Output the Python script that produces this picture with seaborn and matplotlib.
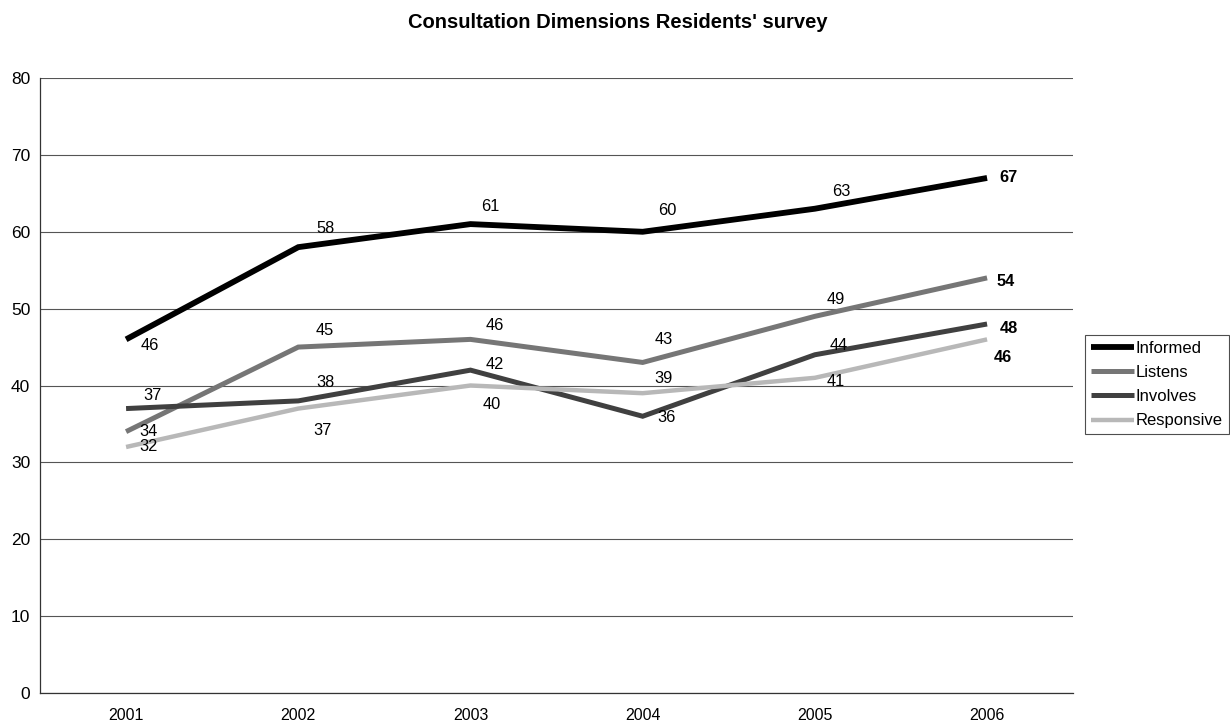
import matplotlib

matplotlib.use("Agg")
import matplotlib.pyplot as plt
import seaborn as sns

years = ["2001", "2002", "2003", "2004", "2005", "2006"]
informed = [46, 58, 61, 60, 63, 67]
listens = [34, 45, 46, 43, 49, 54]
involves = [37, 38, 42, 36, 44, 48]
responsive = [32, 37, 40, 39, 41, 46]

series = {
    "Informed": informed,
    "Listens": listens,
    "Involves": involves,
    "Responsive": responsive,
}

# styling per series
colors = {"Informed": "#000000", "Listens": "#767676", "Involves": "#404040", "Responsive": "#b8b8b8"}
widths = {"Informed": 4.2, "Listens": 3.6, "Involves": 3.6, "Responsive": 3.2}

# label offsets in pixels (dx right, dy down), hand placed like the Excel original
label_offsets = {
    "Informed": [(24, 6), (27, -19), (20, -18), (25, -21), (26, -17), (21, 0)],
    "Listens": [(22, 0), (26, -17), (24, -14), (21, -23), (21, -17), (19, 4)],
    "Involves": [(26, -13), (27, -18), (24, -6), (24, 1), (24, -9), (22, 4)],
    "Responsive": [(22, 0), (24, 22), (21, 19), (21, -15), (21, 4), (16, 18)],
}

sns.set_style("white")
plt.rcParams["font.family"] = ["Liberation Sans", "DejaVu Sans"]
plt.rcParams["text.color"] = "black"
plt.rcParams["xtick.color"] = "black"
plt.rcParams["ytick.color"] = "black"
fs = 11.8

fig = plt.figure(figsize=(12.3, 7.26), dpi=100)
ax = fig.add_axes([0.0325, 0.0455, 0.84, 0.847])

x = list(range(len(years)))
for name, vals in series.items():
    sns.lineplot(x=x, y=vals, ax=ax, color=colors[name], linewidth=widths[name],
                 label=name, solid_capstyle="butt", solid_joinstyle="miter")
    for i, v in enumerate(vals):
        dx, dy = label_offsets[name][i]
        ax.annotate(str(v), (i, v), xytext=(dx, -dy), textcoords="offset pixels",
                    ha="center", va="center", fontsize=fs, color="black",
                    fontweight="bold" if i == len(vals) - 1 else "normal")

ax.set_xlim(-0.5, len(years) - 0.5)
ax.set_ylim(0, 80)
ax.set_yticks(range(0, 81, 10))
ax.set_xticks(x)
ax.set_xticklabels(years)
ax.set_xticks([i + 0.5 for i in range(-1, len(years))], minor=True)
ax.tick_params(axis="x", which="major", length=0, pad=11, labelsize=11.5)
ax.tick_params(axis="x", which="minor", length=5, width=0.8, direction="out", color="#333333")
ax.tick_params(axis="y", length=4, width=0.8, direction="out", pad=3, labelsize=12.5, color="#333333")
ax.yaxis.grid(True, color="#555555", linewidth=0.8)
ax.set_axisbelow(True)
for side in ["top", "right"]:
    ax.spines[side].set_visible(False)
for side in ["left", "bottom"]:
    ax.spines[side].set_color("#333333")
    ax.spines[side].set_linewidth(0.9)
ax.set_xlabel("")
ax.set_ylabel("")

leg = ax.legend(loc="upper left", bbox_to_anchor=(1085 / 1230, 1 - 335 / 726),
                bbox_transform=fig.transFigure, frameon=True, fancybox=False,
                fontsize=12, handlelength=2.6, handletextpad=0.1,
                labelspacing=0.55, borderpad=0.35, borderaxespad=0)
leg.get_frame().set_edgecolor("#222222")
leg.get_frame().set_linewidth(0.8)

fig.text(0.502, 1 - 23 / 726, "Consultation Dimensions Residents' survey",
         ha="center", va="center", fontsize=14.5, fontweight="bold")

fig.savefig("out.png", dpi=100)
plt.close(fig)
